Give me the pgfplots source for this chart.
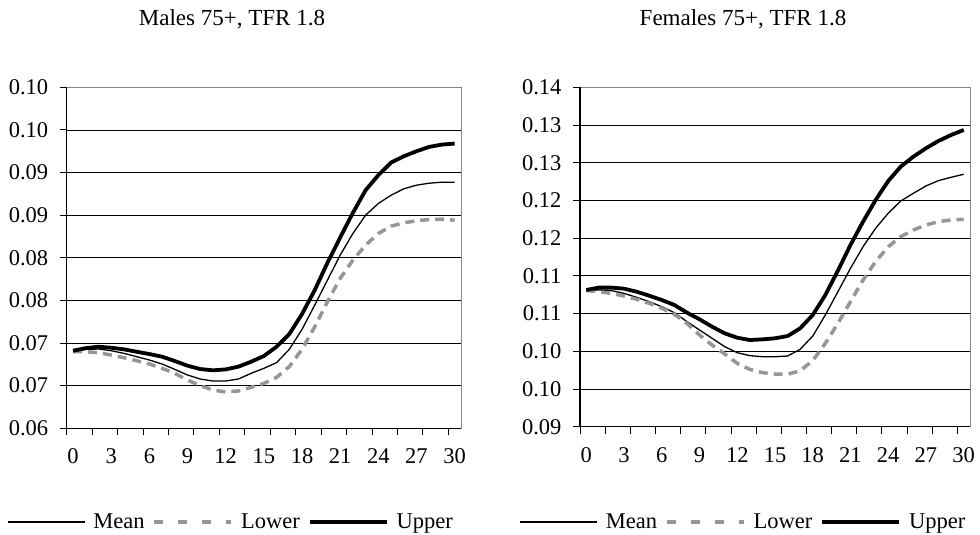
\documentclass[border=0pt]{standalone}
\usepackage{fontspec}
\setmainfont{Liberation Serif}
\usepackage{pgfplots}
\pgfplotsset{compat=1.18}
\usepackage{pgfplotstable}

\pgfplotstableread{
x mean lower upper
0 0.0691 0.0690 0.0691
1 0.06926 0.06898 0.0694
2 0.0693 0.06887 0.06957
3 0.0691 0.06859 0.06945
4 0.06879 0.06828 0.06926
5 0.0684 0.06793 0.06898
6 0.06801 0.06754 0.06871
7 0.06754 0.06703 0.0684
8 0.06691 0.06645 0.06789
9 0.06625 0.06566 0.06734
10 0.06578 0.065 0.06695
11 0.06555 0.06449 0.0668
12 0.06555 0.06426 0.06691
13 0.06578 0.06438 0.06723
14 0.06645 0.0648 0.06781
15 0.06703 0.06527 0.06848
16 0.0677 0.06598 0.06957
17 0.06926 0.06723 0.07105
18 0.0716 0.06926 0.0734
19 0.07445 0.07191 0.07621
20 0.07738 0.07484 0.07941
21 0.08031 0.07758 0.08238
22 0.08285 0.07973 0.08527
23 0.085 0.08148 0.08793
24 0.08637 0.08285 0.08969
25 0.08734 0.08371 0.09117
26 0.08809 0.0841 0.09191
27 0.08852 0.08434 0.0925
28 0.08875 0.08449 0.09301
29 0.08887 0.08453 0.09328
30 0.08887 0.08441 0.0934
}\males

\pgfplotstableread{
x mean lower upper
0 0.10804 0.10804 0.10813
1 0.10813 0.1079 0.10844
2 0.10804 0.10768 0.10844
3 0.10768 0.10733 0.1083
4 0.10715 0.10689 0.1079
5 0.10658 0.10636 0.10737
6 0.10591 0.1057 0.1068
7 0.10512 0.1049 0.10614
8 0.10393 0.10371 0.10512
9 0.10282 0.10216 0.10424
10 0.10172 0.10083 0.10326
11 0.10061 0.09964 0.10238
12 0.09981 0.0984 0.1018
13 0.09942 0.0976 0.10149
14 0.09928 0.09716 0.10158
15 0.09928 0.09698 0.10172
16 0.09937 0.09694 0.10202
17 0.10026 0.09743 0.10304
18 0.10202 0.09875 0.10481
19 0.10481 0.10105 0.10746
20 0.1079 0.10371 0.11069
21 0.111 0.10658 0.1141
22 0.11387 0.10945 0.11719
23 0.11631 0.11189 0.12006
24 0.1183 0.11387 0.12258
25 0.11993 0.1152 0.12449
26 0.12095 0.11608 0.12581
27 0.12192 0.11675 0.12692
28 0.12263 0.11719 0.12789
29 0.12307 0.11741 0.12868
30 0.12347 0.1175 0.12935
}\females

\definecolor{lgray}{RGB}{150,150,150}
\definecolor{framegray}{RGB}{134,134,134}

\pgfplotsset{
  mystyle/.style={
    scale only axis,
    xmin=-0.5, xmax=30.5,
    xtick={-0.5,1.5,3.5,5.5,7.5,9.5,11.5,13.5,15.5,17.5,19.5,21.5,23.5,25.5,27.5,29.5},
    xticklabels={},
    extra x ticks={0,3,6,9,12,15,18,21,24,27,30},
    extra x tick labels={0,3,6,9,12,15,18,21,24,27,30},
    extra x tick style={major tick length=0pt, grid=none,
      xticklabel style={yshift=-17pt}},
    tick align=outside,
    xtick pos=left, ytick pos=left,
    major tick length=7pt,
    tick style={black, line width=0.9pt},
    ymajorgrids,
    major grid style={black, line width=0.8pt},
    axis line style={framegray, line width=1pt},
    ticklabel style={font=\fontsize{22.5}{26}\selectfont},
    yticklabel style={xshift=-8pt},
    /pgf/number format/assume math mode=true,
    legend columns=3,
    legend cell align=left,
    legend style={draw=none, fill=none, anchor=center,
      font=\fontsize{22.5}{26}\selectfont,
      /tikz/every even column/.append style={column sep=6pt},
      /tikz/every odd column/.append style={column sep=6pt},
      inner sep=0pt},
    legend image code/.code={\draw[##1] (0pt,0pt) -- (77pt,0pt);},
    after end axis/.code={\draw[black, line width=1.3pt] (rel axis cs:0,1) -- (rel axis cs:0,0) -- (rel axis cs:1,0);},
  },
  meanline/.style={black, line width=1.3pt},
  lowerline/.style={lgray, line width=3.5pt, dash pattern=on 9pt off 6pt},
  upperline/.style={black, line width=3.8pt},
}

\begin{document}
\begin{tikzpicture}
\path[use as bounding box] (0pt,0pt) rectangle (980pt,535pt);

\begin{axis}[mystyle,
  at={(66.7pt,106.7pt)}, anchor=south west,
  width=394.3pt, height=341pt,
  ymin=0.06, ymax=0.10,
  ytick={0.06,0.065,0.07,0.075,0.08,0.085,0.09,0.095,0.10},
  yticklabels={0.06,0.07,0.07,0.08,0.08,0.09,0.09,0.10,0.10},
  legend style={at={(0.4167,-0.2748)}},
]
\addlegendimage{meanline}
\addlegendentry{Mean}
\addlegendimage{lgray, line width=3.5pt, dash pattern=on 9pt off 15pt}
\addlegendentry{Lower}
\addlegendimage{upperline}
\addlegendentry{Upper}
\addplot[meanline, forget plot] table[x=x, y=mean] {\males};
\addplot[lowerline, forget plot] table[x=x, y=lower] {\males};
\addplot[upperline, forget plot] table[x=x, y=upper] {\males};
\end{axis}

\begin{axis}[mystyle,
  at={(580pt,108.3pt)}, anchor=south west,
  width=390pt, height=339.4pt,
  ymin=0.09, ymax=0.135,
  ytick={0.09,0.095,0.10,0.105,0.11,0.115,0.12,0.125,0.13,0.135},
  yticklabels={0.09,0.10,0.10,0.11,0.11,0.12,0.12,0.13,0.13,0.14},
  legend style={at={(0.419,-0.2808)}},
]
\addlegendimage{meanline}
\addlegendentry{Mean}
\addlegendimage{lgray, line width=3.5pt, dash pattern=on 9pt off 15pt}
\addlegendentry{Lower}
\addlegendimage{upperline}
\addlegendentry{Upper}
\addplot[meanline, forget plot] table[x=x, y=mean] {\females};
\addplot[lowerline, forget plot] table[x=x, y=lower] {\females};
\addplot[upperline, forget plot] table[x=x, y=upper] {\females};
\end{axis}

\node[anchor=base, font=\fontsize{23}{27}\selectfont] at (232pt,509pt) {Males 75+, TFR 1.8};
\node[anchor=base, font=\fontsize{23}{27}\selectfont] at (743pt,509pt) {Females 75+, TFR 1.8};
\end{tikzpicture}
\end{document}
